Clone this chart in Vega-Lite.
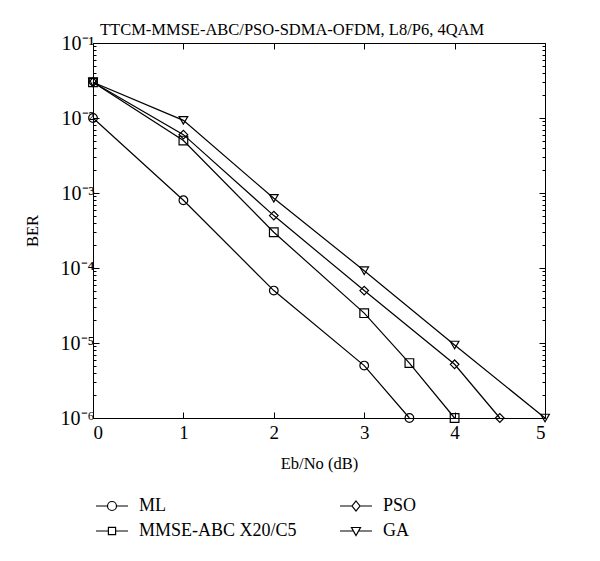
{
  "$schema": "https://vega.github.io/schema/vega-lite/v6.json",
  "width": 452,
  "height": 375,
  "autosize": {"type": "none"},
  "padding": {"left": 93, "top": 43, "right": 55, "bottom": 143},
  "background": "white",
  "title": {"text": "TTCM-MMSE-ABC/PSO-SDMA-OFDM, L8/P6, 4QAM", "anchor": "start", "frame": "group", "dx": 7, "offset": -5, "font": "Liberation Serif", "fontSize": 16.5, "fontWeight": "normal", "color": "black"},
  "data": {"values": [
    {"x": 0, "ber": 0.01, "s": "ML"},
    {"x": 1, "ber": 0.0008, "s": "ML"},
    {"x": 2, "ber": 0.00005, "s": "ML"},
    {"x": 3, "ber": 0.000005, "s": "ML"},
    {"x": 3.5, "ber": 0.000001, "s": "ML"},
    {"x": 0, "ber": 0.03, "s": "MMSE-ABC X20/C5"},
    {"x": 1, "ber": 0.005, "s": "MMSE-ABC X20/C5"},
    {"x": 2, "ber": 0.0003, "s": "MMSE-ABC X20/C5"},
    {"x": 3, "ber": 0.000025, "s": "MMSE-ABC X20/C5"},
    {"x": 3.5, "ber": 0.0000054, "s": "MMSE-ABC X20/C5"},
    {"x": 4, "ber": 0.000001, "s": "MMSE-ABC X20/C5"},
    {"x": 0, "ber": 0.03, "s": "PSO"},
    {"x": 1, "ber": 0.006, "s": "PSO"},
    {"x": 2, "ber": 0.0005, "s": "PSO"},
    {"x": 3, "ber": 0.00005, "s": "PSO"},
    {"x": 4, "ber": 0.0000052, "s": "PSO"},
    {"x": 4.5, "ber": 0.000001, "s": "PSO"},
    {"x": 0, "ber": 0.03, "s": "GA"},
    {"x": 1, "ber": 0.0093, "s": "GA"},
    {"x": 2, "ber": 0.00085, "s": "GA"},
    {"x": 3, "ber": 0.000092, "s": "GA"},
    {"x": 4, "ber": 0.0000094, "s": "GA"},
    {"x": 5, "ber": 0.000001, "s": "GA"}
  ]},
  "layer": [
    {
      "mark": {"type": "line", "color": "black", "strokeWidth": 1.2},
      "encoding": {
        "x": {"field": "x", "type": "quantitative", "scale": {"domain": [0, 5], "nice": false},
          "axis": {"orient": "bottom", "values": [0, 1, 2, 3, 4, 5], "tickSize": -6, "labelPadding": 11, "title": "Eb/No (dB)", "titlePadding": 13, "grid": false}},
        "y": {"field": "ber", "type": "quantitative", "scale": {"type": "log", "domain": [0.000001, 0.1], "nice": false},
          "axis": {"orient": "left", "grid": false, "title": "BER", "titlePadding": 20,
            "values": [0.000001,0.000002,0.000003,0.000004,0.000005,0.000006,0.000007,0.000008,0.000009,0.00001,0.00002,0.00003,0.00004,0.00005,0.00006,0.00007,0.00008,0.00009,0.0001,0.0002,0.0003,0.0004,0.0005,0.0006,0.0007,0.0008,0.0009,0.001,0.002,0.003,0.004,0.005,0.006,0.007,0.008,0.009,0.01,0.02,0.03,0.04,0.05,0.06,0.07,0.08,0.09,0.1],
            "tickSize": {"condition": {"test": "abs(log(datum.value)/LN10 - round(log(datum.value)/LN10)) < 0.01", "value": -6}, "value": -3},
            "labelExpr": "abs(log(datum.value)/LN10 - round(log(datum.value)/LN10)) < 0.01 ? '10⁻' + ['⁰','¹','²','³','⁴','⁵','⁶'][-round(log(datum.value)/LN10)] : ''",
            "labelPadding": 5, "labelFontSize": 20}},
        "detail": {"field": "s"}
      }
    },
    {
      "mark": {"type": "point", "color": "black", "filled": false, "strokeWidth": 1.2, "size": 75, "opacity": 1},
      "encoding": {
        "x": {"field": "x", "type": "quantitative",
          "axis": {"orient": "top", "values": [0, 1, 2, 3, 4, 5], "tickSize": -6, "labels": false, "title": null, "grid": false}},
        "y": {"field": "ber", "type": "quantitative",
          "axis": {"orient": "right", "grid": false, "title": null, "labels": false,
            "values": [0.000001,0.000002,0.000003,0.000004,0.000005,0.000006,0.000007,0.000008,0.000009,0.00001,0.00002,0.00003,0.00004,0.00005,0.00006,0.00007,0.00008,0.00009,0.0001,0.0002,0.0003,0.0004,0.0005,0.0006,0.0007,0.0008,0.0009,0.001,0.002,0.003,0.004,0.005,0.006,0.007,0.008,0.009,0.01,0.02,0.03,0.04,0.05,0.06,0.07,0.08,0.09,0.1],
            "tickSize": {"condition": {"test": "abs(log(datum.value)/LN10 - round(log(datum.value)/LN10)) < 0.01", "value": -6}, "value": -3}}},
        "shape": {"field": "s", "type": "nominal",
          "scale": {"domain": ["ML", "MMSE-ABC X20/C5", "PSO", "GA"], "range": ["circle", "square", "diamond", "triangle-down"]},
          "legend": null}
      }
    },
    {
      "transform": [{"filter": "datum.x < -100"}],
      "mark": {"type": "point", "color": "black", "filled": false, "strokeWidth": 1.2, "opacity": 1},
      "encoding": {
        "x": {"field": "x", "type": "quantitative", "axis": null},
        "y": {"field": "ber", "type": "quantitative", "axis": null},
        "shape": {"field": "s", "type": "nominal",
          "scale": {"domain": ["ML", "MMSE-ABC X20/C5", "PSO", "GA"],
            "range": [
              "M-1.6,0H-0.45M0.45,0H1.6M0.45,0A0.45,0.45 0 1 1 -0.45,0A0.45,0.45 0 1 1 0.45,0Z",
              "M-1.6,0H-0.36M0.36,0H1.6M-0.36,-0.36H0.36V0.36H-0.36Z",
              "M-1.6,0H-0.4M0.4,0H1.6M0,-0.5L0.4,0L0,0.5L-0.4,0Z",
              "M-1.6,0H-0.25M0.25,0H1.6M-0.45,-0.35H0.45L0,0.45Z"
            ]},
          "legend": {"orient": "none", "legendX": 8, "legendY": 452, "columns": 2, "title": null,
            "symbolSize": 400, "symbolStrokeColor": "black", "symbolStrokeWidth": 1.2,
            "labelOffset": 16, "columnPadding": 40, "rowPadding": 5,
            "labelFont": "Liberation Serif", "labelFontSize": 18, "labelColor": "black"}
        }
      }
    }
  ],
  "resolve": {"axis": {"x": "independent", "y": "independent"}, "scale": {"shape": "independent"}, "legend": {"shape": "independent"}},
  "config": {
    "view": {"stroke": null},
    "axis": {"domainColor": "black", "domainWidth": 1, "tickColor": "black", "tickWidth": 1, "labelColor": "black", "labelFont": "Liberation Serif", "labelFontSize": 19, "titleFont": "Liberation Serif", "titleFontSize": 16.5, "titleFontWeight": "normal", "titleColor": "black"}
  }
}
